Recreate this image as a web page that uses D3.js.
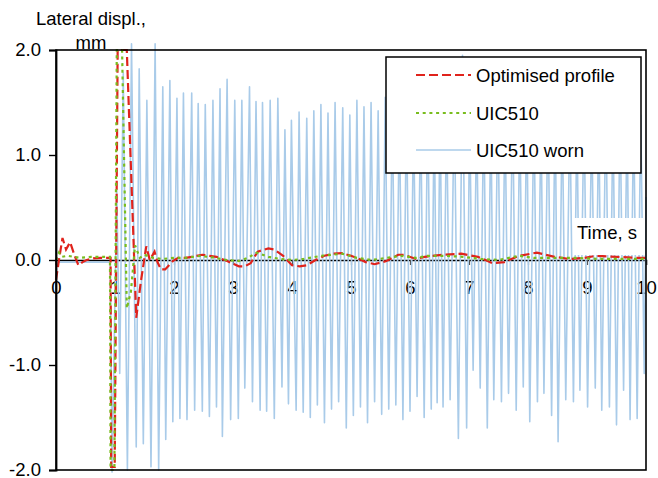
<!DOCTYPE html>
<html>
<head>
<meta charset="utf-8">
<script src="https://cdn.jsdelivr.net/npm/d3@7"></script>
<style>
  html, body { margin: 0; padding: 0; background: #fff; }
  svg { display: block; font-family: "Liberation Sans", Arial, sans-serif; }
</style>
</head>
<body>
<svg id="chart" width="658" height="478"></svg>
<script>
// Lateral wheelset displacement over time for three wheel profiles

const xTicks = [0, 1, 2, 3, 4, 5, 6, 7, 8, 9, 10];
const yTicks = [-2, -1, 0, 1, 2];
const seriesNames = ["Optimised profile", "UIC510", "UIC510 worn"];

// Optimised profile
const optTime = [0, 0.05, 0.11, 0.17, 0.24, 0.31, 0.38, 0.45, 0.52, 0.63, 0.75, 0.9, 0.925, 0.935, 0.995, 1.045, 1.2, 1.36, 1.44, 1.53, 1.59, 1.67, 1.72, 1.78, 1.85, 1.98, 2.07, 2.2, 2.3, 2.48, 2.6, 2.72, 2.9, 3.1, 3.2, 3.3, 3.42, 3.6, 3.7, 3.85, 4.0, 4.13, 4.25, 4.4, 4.55, 4.7, 4.85, 5.0, 5.1, 5.25, 5.4, 5.6, 5.8, 5.9, 6.1, 6.25, 6.55, 6.87, 7.15, 7.4, 7.6, 7.85, 8.15, 8.45, 8.7, 8.95, 9.15, 9.5, 9.85, 10];
const optDispl = [-0.19, 0.0, 0.21, 0.10, 0.17, 0.05, -0.05, -0.02, 0.0, 0.015, 0.02, 0.02, 0.02, -1.97, -1.97, 2.0, 2.0, -0.55, -0.2, 0.13, 0.0, 0.08, -0.02, -0.09, -0.09, -0.01, 0.02, 0.02, 0.03, 0.05, 0.04, 0.03, -0.01, -0.06, -0.06, -0.03, 0.08, 0.11, 0.10, 0.04, -0.05, -0.06, -0.05, 0.0, 0.04, 0.06, 0.065, 0.04, 0.02, -0.02, -0.04, -0.01, 0.05, 0.05, 0.01, 0.03, 0.05, 0.06, 0.03, -0.03, -0.02, 0.04, 0.07, 0.03, 0.01, 0.02, 0.04, 0.03, 0.02, 0.02];

// UIC510
const uicTime = [0, 0.05, 0.1, 0.2, 0.4, 0.6, 0.9, 0.915, 0.925, 0.99, 1.03, 1.12, 1.2, 1.27, 1.34, 1.42, 1.5, 1.65, 1.8, 2.0, 2.2, 2.45, 2.7, 2.9, 3.1, 3.25, 3.4, 3.6, 3.8, 4.0, 4.2, 4.3, 4.5, 4.85, 5.1, 5.35, 5.6, 5.85, 6.1, 6.3, 6.6, 6.9, 7.2, 7.5, 7.85, 8.1, 8.4, 8.8, 9.2, 9.6, 10];
const uicDispl = [0.0, 0.07, 0.03, 0.04, 0.02, 0.03, 0.03, 0.03, -2.0, -2.0, 2.0, 2.0, -0.46, -0.3, 0.14, 0.02, 0.05, 0.02, 0.01, 0.02, 0.02, 0.04, 0.02, 0.0, -0.01, 0.02, 0.07, 0.03, 0.01, 0.0, 0.01, 0.02, 0.04, 0.06, 0.02, 0.0, 0.02, 0.04, 0.02, 0.04, 0.04, 0.03, 0.01, 0.0, 0.04, 0.02, 0.02, 0.02, 0.01, 0.01, 0.01];

// UIC510 worn: turning points of the hunting oscillation
const wornTime = [0, 0.92, 0.95, 1.03, 1.08, 1.14, 1.21, 1.28, 1.36, 1.41, 1.48, 1.54, 1.61, 1.68, 1.74, 1.81, 1.86, 1.93, 1.98, 2.05, 2.10, 2.16, 2.22, 2.30, 2.35, 2.41, 2.48, 2.53, 2.60, 2.66, 2.72, 2.78, 2.82, 2.90, 2.96, 3.03, 3.09, 3.15, 3.20, 3.28, 3.33, 3.39, 3.46, 3.50, 3.57, 3.63, 3.70, 3.76, 3.83, 3.88, 3.94, 3.99, 4.07, 4.12, 4.19, 4.25, 4.31, 4.37, 4.43, 4.49, 4.55, 4.61, 4.67, 4.73, 4.79, 4.86, 4.92, 4.98, 5.04, 5.10, 5.16, 5.22, 5.28, 5.34, 5.40, 5.46, 5.52, 5.58, 5.64, 5.70, 5.76, 5.82, 5.88, 5.94, 6.00, 6.06, 6.12, 6.18, 6.24, 6.30, 6.36, 6.41, 6.46, 6.51, 6.56, 6.62, 6.68, 6.75, 6.82, 6.89, 6.96, 7.01, 7.07, 7.13, 7.19, 7.25, 7.31, 7.37, 7.42, 7.49, 7.55, 7.61, 7.67, 7.74, 7.80, 7.86, 7.92, 7.98, 8.03, 8.10, 8.16, 8.22, 8.27, 8.34, 8.40, 8.46, 8.51, 8.58, 8.64, 8.71, 8.77, 8.83, 8.88, 8.95, 9.01, 9.08, 9.14, 9.20, 9.25, 9.32, 9.38, 9.44, 9.50, 9.56, 9.62, 9.68, 9.73, 9.79, 9.85, 9.91, 9.97, 10.0];
const wornDispl = [-0.02, -0.02, -2.02, 0.67, -1.08, 1.78, -2.0, 2.06, -1.78, 1.82, -1.75, 1.52, -1.97, 2.06, -2.0, 1.65, -1.71, 1.71, -1.54, 1.54, -1.51, 1.59, -1.52, 1.59, -1.43, 1.49, -1.44, 1.48, -1.49, 1.52, -1.40, 1.63, -1.68, 1.72, -1.52, 1.52, -1.51, 1.52, -1.22, 1.65, -1.35, 1.51, -1.43, 1.50, -1.44, 1.52, -1.51, 1.54, -1.21, 1.24, -1.37, 1.33, -1.43, 1.41, -1.45, 1.35, -1.50, 1.42, -1.38, 1.48, -1.55, 1.40, -1.42, 1.50, -1.35, 1.45, -1.60, 1.38, -1.48, 1.52, -1.40, 1.46, -1.55, 1.50, -1.35, 1.42, -1.47, 1.55, -1.42, 1.48, -1.38, 1.45, -1.52, 1.50, -1.44, 1.40, -1.30, 1.46, -1.50, 1.52, -1.42, 1.48, -1.36, 1.50, -1.40, 1.45, -1.33, 1.55, -1.70, 1.95, -1.60, 1.40, -1.05, 1.35, -1.22, 1.50, -1.60, 1.45, -1.33, 1.48, -1.35, 1.42, -1.27, 1.50, -1.43, 1.38, -1.21, 1.52, -1.54, 1.45, -1.35, 1.40, -1.27, 1.48, -1.48, 1.55, -1.73, 1.42, -1.33, 1.45, -1.35, 1.38, -1.24, 1.46, -1.40, 1.35, -1.22, 1.44, -1.43, 1.50, -1.40, 1.42, -1.57, 1.48, -1.24, 1.40, -1.52, 1.46, -1.51, 1.38, -1.08, 0.6];

const svg = d3.select("#chart");
const x = d3.scaleLinear().domain([0, 10]).range([56, 646]);
const y = d3.scaleLinear().domain([-2, 2]).range([470, 50]);
const fontSize = 18.5;

// x axis along zero displacement, drawn beneath the series
const xAxis = svg.append("g")
  .attr("transform", `translate(0,${y(0)})`)
  .call(d3.axisBottom(x).tickValues(xTicks).tickFormat(d3.format("d")).tickSize(5).tickPadding(16));
xAxis.select(".domain").attr("stroke", "#000").attr("stroke-width", 1.5);
xAxis.selectAll(".tick line").attr("stroke", "#555").attr("stroke-width", 1.2);
xAxis.selectAll(".tick text").attr("font-size", fontSize).attr("fill", "#000")
  .attr("font-family", "Liberation Sans, Arial, sans-serif");

const line = d3.line().x(d => x(d[0])).y(d => y(d[1]));

function pairs(t, v) { return t.map((ti, i) => [ti, v[i]]); }

svg.append("path").datum(pairs(wornTime, wornDispl))
  .attr("fill", "none").attr("stroke", "#a9cbe9").attr("stroke-width", 1.6)
  .attr("stroke-linejoin", "round").attr("d", line);

svg.append("path").datum(pairs(optTime, optDispl))
  .attr("fill", "none").attr("stroke", "#e0231c").attr("stroke-width", 2.2)
  .attr("stroke-dasharray", "9,4").attr("d", line);

svg.append("path").datum(pairs(uicTime, uicDispl))
  .attr("fill", "none").attr("stroke", "#79bd1e").attr("stroke-width", 2.2)
  .attr("stroke-dasharray", "3,3.7").attr("d", line);

// plot frame
svg.append("rect")
  .attr("x", x(0)).attr("y", y(2))
  .attr("width", x(10) - x(0)).attr("height", y(-2) - y(2))
  .attr("fill", "none").attr("stroke", "#000").attr("stroke-width", 1.6);

// y axis
const yAxis = svg.append("g")
  .attr("transform", `translate(${x(0)},0)`)
  .call(d3.axisLeft(y).tickValues(yTicks).tickFormat(d => d.toFixed(1)).tickSize(7).tickPadding(8));
yAxis.select(".domain").attr("stroke", "#000").attr("stroke-width", 1.8);
yAxis.selectAll(".tick line").attr("stroke", "#000").attr("stroke-width", 1.4);
yAxis.selectAll(".tick text").attr("font-size", fontSize).attr("fill", "#000")
  .attr("font-family", "Liberation Sans, Arial, sans-serif");

// axis titles
svg.append("text").attr("x", 91).attr("y", 25).attr("text-anchor", "middle")
  .attr("font-size", fontSize).text("Lateral displ.,");
svg.append("text").attr("x", 91).attr("y", 49).attr("text-anchor", "middle")
  .attr("font-size", fontSize).text("mm");

svg.append("rect").attr("x", 573).attr("y", 218).attr("width", 72).attr("height", 37).attr("fill", "#fff");
svg.append("text").attr("x", 577).attr("y", 239).attr("font-size", fontSize).text("Time, s");

// legend
const legend = svg.append("g");
legend.append("rect").attr("x", 386).attr("y", 57).attr("width", 255).attr("height", 116)
  .attr("fill", "#fff").attr("stroke", "#000").attr("stroke-width", 1.5);
const legendStyles = [
  { color: "#e0231c", dash: "9,4" },
  { color: "#79bd1e", dash: "3,3.7" },
  { color: "#a9cbe9", dash: null }
];
const legendRows = [75, 113, 150];
seriesNames.forEach((name, i) => {
  const ly = legendRows[i];
  legend.append("line").attr("x1", 416).attr("x2", 471).attr("y1", ly).attr("y2", ly)
    .attr("stroke", legendStyles[i].color).attr("stroke-width", i === 2 ? 1.6 : 2.2)
    .attr("stroke-dasharray", legendStyles[i].dash);
  legend.append("text").attr("x", 476).attr("y", ly + 6.5).attr("font-size", fontSize).text(name);
});
</script>
</body>
</html>
